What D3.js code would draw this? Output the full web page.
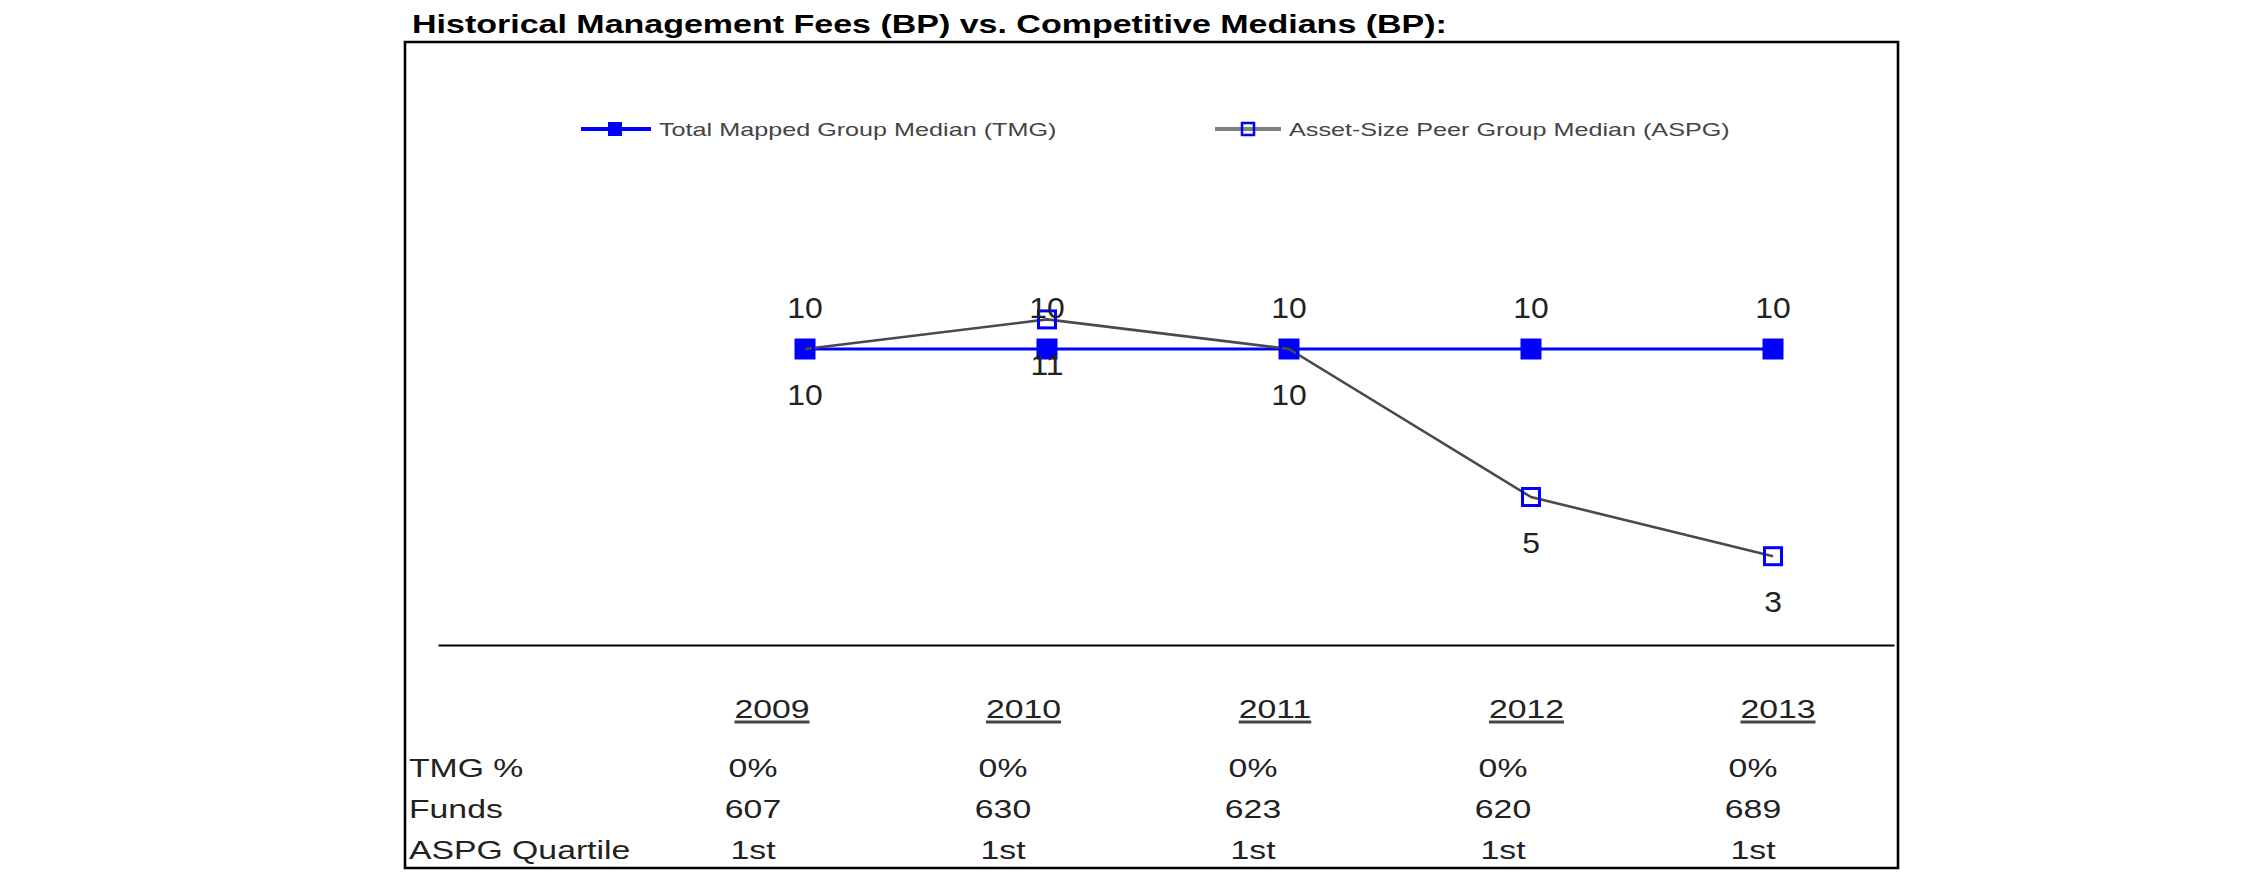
<!DOCTYPE html>
<html>
<head>
<meta charset="utf-8">
<script src="https://cdn.jsdelivr.net/npm/d3@7"></script>
<style>
  html, body { margin: 0; padding: 0; background: #ffffff; }
  svg { display: block; }
  text { font-family: "Liberation Sans", Arial, sans-serif; }
</style>
</head>
<body>
<div id="chart"></div>
<script>
// ---------------- data ----------------
const titleText = "Historical Management Fees (BP) vs. Competitive Medians (BP):";
const years = ["2009", "2010", "2011", "2012", "2013"];
const seriesNames = ["Total Mapped Group Median (TMG)", "Asset-Size Peer Group Median (ASPG)"];
const tmgValues = [10, 10, 10, 10, 10];
const aspgValues = [10, 11, 10, 5, 3];
const rowLabels = ["TMG %", "Funds", "ASPG Quartile"];
const tmgPct = ["0%", "0%", "0%", "0%", "0%"];
const funds = ["607", "630", "623", "620", "689"];
const aspgQuartile = ["1st", "1st", "1st", "1st", "1st"];

// ---------------- layout ----------------
const W = 2250, H = 895;
const BLUE = "#0000ff", GREY_LINE = "#4a4a4a", LEG_GREY = "#808080";
const TEXT_DARK = "#1a1a1a";

const svg = d3.select("#chart").append("svg")
  .attr("width", W).attr("height", H);
svg.append("rect").attr("width", W).attr("height", H).attr("fill", "#fff");

// helper: horizontally stretched text (reference fonts look widened)
function sText(g, x, y, str, opts) {
  const t = g.append("text")
    .attr("transform", `translate(${x},${y}) scale(${opts.sx || 1},1)`)
    .attr("text-anchor", opts.anchor || "start")
    .attr("font-size", opts.size)
    .attr("font-weight", opts.weight || "normal")
    .attr("fill", opts.fill || TEXT_DARK)
    .text(str);
  return t;
}

// title
sText(svg, 412, 33, titleText, { size: 25, weight: "bold", sx: 1.36, fill: "#000" });

// frame
const box = { l: 405, t: 42, r: 1898, b: 868 };
svg.append("path")
  .attr("d", `M${box.l},${box.t}H${box.r}V${box.b}H${box.l}Z`)
  .attr("fill", "none").attr("stroke", "#000").attr("stroke-width", 2.6);

// scales
const x = d3.scalePoint().domain(years).range([805, 1773]);
const y = d3.scaleLinear().domain([0, 20]).range([645, 53]);

// baseline (value 0) as an axis without ticks
const axisScale = d3.scaleLinear().domain([0, 1]).range([438, 1894]);
svg.append("g")
  .attr("transform", `translate(0,${y(0)})`)
  .call(d3.axisBottom(axisScale).ticks(0).tickSizeOuter(0))
  .call(g => g.select(".domain").attr("stroke", "#000").attr("stroke-width", 2.2));

// series data
const tmgData = years.map((yr, i) => ({ yr, v: tmgValues[i] }));
const aspgData = years.map((yr, i) => ({ yr, v: aspgValues[i] }));
const line = d3.line().x(d => x(d.yr)).y(d => y(d.v));

// TMG series
svg.append("path").datum(tmgData)
  .attr("d", line).attr("fill", "none")
  .attr("stroke", BLUE).attr("stroke-width", 3.2);

const MS = 21;
svg.append("g").selectAll("rect").data(tmgData).join("rect")
  .attr("x", d => x(d.yr) - MS / 2).attr("y", d => y(d.v) - MS / 2)
  .attr("width", MS).attr("height", MS).attr("fill", BLUE);

// ASPG series
svg.append("path").datum(aspgData)
  .attr("d", line).attr("fill", "none")
  .attr("stroke", GREY_LINE).attr("stroke-width", 2.6);

const HS = 17;
svg.append("g").selectAll("rect").data(aspgData).join("rect")
  .attr("x", d => x(d.yr) - HS / 2).attr("y", d => y(d.v) - HS / 2)
  .attr("width", HS).attr("height", HS)
  .attr("fill", "none").attr("stroke", BLUE).attr("stroke-width", 3);

// data labels
const lblG = svg.append("g");
aspgData.forEach(d => sText(lblG, x(d.yr), y(d.v) + 56, String(d.v),
  { size: 29, sx: 1.1, anchor: "middle", fill: "#222" }));
tmgData.forEach(d => sText(lblG, x(d.yr), y(d.v) - 31, String(d.v),
  { size: 29, sx: 1.1, anchor: "middle", fill: "#222" }));

// legend
const leg = svg.append("g");
const legY = 129;
// item 1
leg.append("line").attr("x1", 581).attr("x2", 651).attr("y1", legY).attr("y2", legY)
  .attr("stroke", BLUE).attr("stroke-width", 4);
leg.append("rect").attr("x", 615 - 7).attr("y", legY - 7).attr("width", 14).attr("height", 14)
  .attr("fill", BLUE);
sText(leg, 659, legY + 7, seriesNames[0], { size: 18, sx: 1.4, fill: "#444" });
// item 2
leg.append("line").attr("x1", 1215).attr("x2", 1281).attr("y1", legY).attr("y2", legY)
  .attr("stroke", LEG_GREY).attr("stroke-width", 4);
leg.append("rect").attr("x", 1248 - 6).attr("y", legY - 6).attr("width", 12).attr("height", 12)
  .attr("fill", "none").attr("stroke", BLUE).attr("stroke-width", 2.5);
sText(leg, 1289, legY + 7, seriesNames[1], { size: 18, sx: 1.4, fill: "#444" });

// table
const colYear = d3.scalePoint().domain(years).range([772, 1778]);
const colVal = d3.scalePoint().domain(years).range([753, 1753]);
const tbl = svg.append("g");
const yearBase = 718;
years.forEach(yr => {
  const t = sText(tbl, colYear(yr), yearBase, yr, { size: 25, sx: 1.35, anchor: "middle", fill: "#222" });
  const w = t.node().getComputedTextLength() * 1.35;
  tbl.append("line")
    .attr("x1", colYear(yr) - w / 2).attr("x2", colYear(yr) + w / 2)
    .attr("y1", yearBase + 4).attr("y2", yearBase + 4)
    .attr("stroke", "#444").attr("stroke-width", 3);
});
const rowBase = [777, 818, 859];
const rowVals = [tmgPct, funds, aspgQuartile];
rowLabels.forEach((lab, r) => {
  sText(tbl, 409, rowBase[r], lab, { size: 25, sx: 1.35, fill: "#222" });
  years.forEach((yr, i) => {
    sText(tbl, colVal(yr), rowBase[r], rowVals[r][i], { size: 25, sx: 1.35, anchor: "middle", fill: "#222" });
  });
});
</script>
</body>
</html>
